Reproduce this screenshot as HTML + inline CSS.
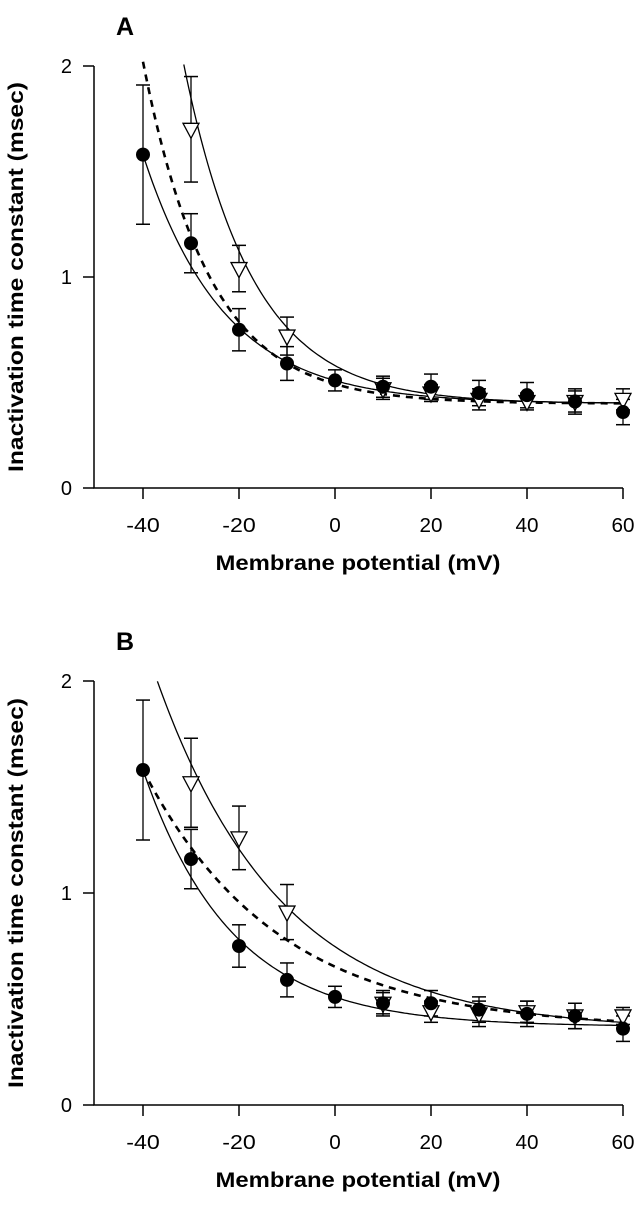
<!DOCTYPE html>
<html><head><meta charset="utf-8"><style>
body{margin:0;background:#fff;}
svg text{font-family:"Liberation Sans",Arial,sans-serif;fill:#000;}
</style></head><body>
<svg id="chart" width="640" height="1200" viewBox="0 0 640 1200" xmlns="http://www.w3.org/2000/svg"></svg>
<script>
const xTicks=[-40,-20,0,20,40,60];
const yTicks=[0,1,2];
const voltages=[-40,-30,-20,-10,0,10,20,30,40,50,60];
const circA=[1.58,1.16,0.75,0.59,0.51,0.48,0.48,0.45,0.44,0.41,0.36];
const circAErr=[0.33,0.14,0.10,0.08,0.05,0.05,0.06,0.06,0.06,0.06,0.06];
const triV=[-30,-20,-10,10,20,30,40,50,60];
const triA=[1.70,1.04,0.72,0.47,0.45,0.42,0.41,0.41,0.42];
const triAErr=[0.25,0.11,0.09,0.05,0.04,0.05,0.04,0.05,0.05];
const circB=[1.58,1.16,0.75,0.59,0.51,0.48,0.48,0.45,0.43,0.42,0.36];
const circBErr=[0.33,0.14,0.10,0.08,0.05,0.05,0.06,0.06,0.06,0.06,0.06];
const triB=[1.52,1.26,0.91,0.48,0.44,0.43,0.44,0.42,0.42];
const triBErr=[0.21,0.15,0.13,0.06,0.05,0.06,0.05,0.06,0.04];
// exponential fits: [offset, amplitude at -40 mV, tau mV]
const fitCircA=[0.40,1.18,16.8];
const fitTriA=[0.40,2.90,14.4];
const fitDashA=[0.40,1.62,14.0];
const fitCircB=[0.37,1.21,18.5];
const fitTriB=[0.35,1.85,26];
const fitDashB=[0.36,1.22,28];

const svg=document.getElementById('chart');
const NS='http://www.w3.org/2000/svg';
function mk(tag,attrs,parent){const e=document.createElementNS(NS,tag);for(const k in attrs)e.setAttribute(k,attrs[k]);(parent||svg).appendChild(e);return e;}

function panel(id,letter,top,y0,y2,circ,circErr,tri,triErr,fits){
  const g=mk('g',{});
  
  
  const xs=v=>143+(v+40)*4.8;
  const ys=t=>y0-(y0-y2)*t/2;
  const L=mk('text',{x:125,y:top+27,'font-size':25,'font-weight':'bold','text-anchor':'middle'},g);L.textContent=letter;
  
  
  const ax=mk('path',{d:`M94 ${y2} V${y0} H623`,stroke:'#000','stroke-width':1.5,fill:'none'},g);
  
  
  yTicks.forEach(t=>{
    mk('line',{x1:83,x2:94,y1:ys(t),y2:ys(t),stroke:'#000','stroke-width':1.5},g);
    const tx=mk('text',{x:72,y:ys(t)+7,'font-size':20,'text-anchor':'end'},g);tx.textContent=t;
    
    
  });
  xTicks.forEach(t=>{
    mk('line',{x1:xs(t),x2:xs(t),y1:y0,y2:y0+11,stroke:'#000','stroke-width':1.5},g);
    const s=String(t);
    const tx=mk('text',{x:xs(t),y:y0+44,'font-size':20,'text-anchor':'middle',textLength:s.length*11.5+(t<0?-1:0),lengthAdjust:'spacingAndGlyphs'},g);tx.textContent=s;
    
    
  });
  const xt=mk('text',{x:358,y:y0+82,'font-size':21,'font-weight':'bold','text-anchor':'middle',textLength:285,lengthAdjust:'spacingAndGlyphs'},g);xt.textContent='Membrane potential (mV)';
  
  
  const yc=(y0+y2)/2;
  const yt=mk('text',{x:23,y:yc,'font-size':21,'font-weight':'bold','text-anchor':'middle',textLength:390,lengthAdjust:'spacingAndGlyphs',transform:`rotate(-90 23 ${yc})`},g);yt.textContent='Inactivation time constant (msec)';
  
  
  fits.forEach((f,i)=>{
    let d='';let started=false;
    for(let v=-45;v<=60;v+=0.5){const val=f[0]+f[1]*Math.exp(-(v+40)/f[2]);if(val>2.02)continue;if(id==='b'&&i!==1&&v<-40)continue;if(id==='a'&&i===0&&v<-40)continue;
      d+=(started?'L':'M')+xs(v).toFixed(1)+' '+ys(val).toFixed(1);started=true;}
    const p=mk('path',{d,fill:'none',stroke:'#000','stroke-width':i===2?2.6:1.3},g);
    if(i===2)p.setAttribute('stroke-dasharray','7 6');
    
    
  });
  function ebar(v,m,e){const x=xs(v);mk('line',{x1:x,x2:x,y1:ys(m-e),y2:ys(m+e),stroke:'#000','stroke-width':1.3},g);
    [m-e,m+e].forEach(t=>mk('line',{x1:x-7,x2:x+7,y1:ys(t),y2:ys(t),stroke:'#000','stroke-width':1.5},g));}
  tri.forEach((m,i)=>ebar(triV[i],m,triErr[i]));
  circ.forEach((m,i)=>ebar(voltages[i],m,circErr[i]));
  tri.forEach((m,i)=>{const x=xs(triV[i]),y=ys(m);
    const t=mk('path',{d:`M${x-8} ${y-6} H${x+8} L${x} ${y+9} Z`,fill:'#fff',stroke:'#000','stroke-width':1.3},g);
    
    });
  circ.forEach((m,i)=>{const c=mk('circle',{cx:xs(voltages[i]),cy:ys(m),r:7,fill:'#000'},g);
    
    });
}
panel('a','A',8,488,66,circA,circAErr,triA,triAErr,[fitCircA,fitTriA,fitDashA]);
panel('b','B',623,1105,681,circB,circBErr,triB,triBErr,[fitCircB,fitTriB,fitDashB]);
</script>
</body></html>
